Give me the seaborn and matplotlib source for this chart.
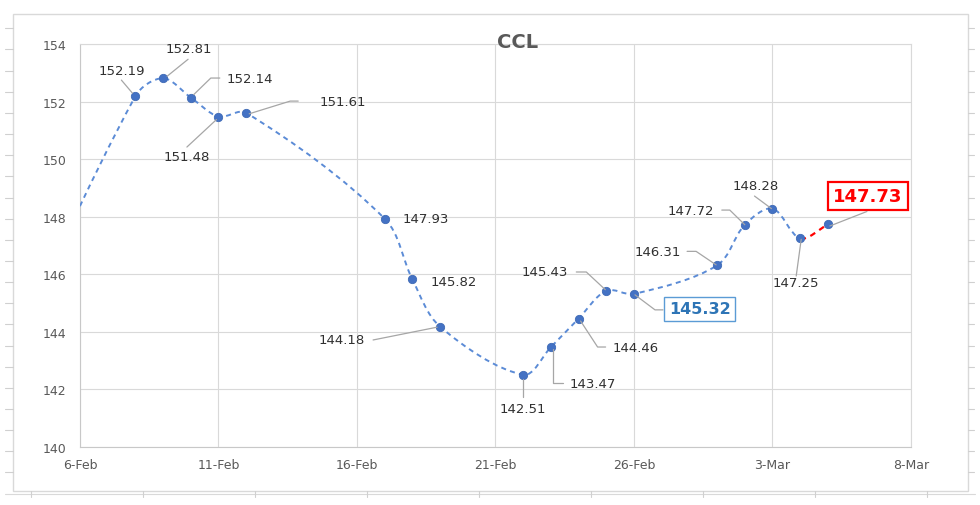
import numpy as np
import pandas as pd
import matplotlib
matplotlib.use("Agg")
import matplotlib.pyplot as plt
import matplotlib.dates as mdates
from matplotlib.path import Path
from matplotlib.patches import PathPatch, Rectangle
from matplotlib.lines import Line2D
from matplotlib.transforms import IdentityTransform
import seaborn as sns

# ---------------- data ----------------
dates = ["2023-02-03", "2023-02-08", "2023-02-09", "2023-02-10", "2023-02-11",
         "2023-02-12", "2023-02-17", "2023-02-18", "2023-02-19", "2023-02-22",
         "2023-02-23", "2023-02-24", "2023-02-25", "2023-02-26", "2023-03-01",
         "2023-03-02", "2023-03-03", "2023-03-04", "2023-03-05"]
values = [142.2, 152.19, 152.81, 152.14, 151.48, 151.61, 147.93, 145.82, 144.18,
          142.51, 143.47, 144.46, 145.43, 145.32, 146.31, 147.72, 148.28, 147.25,
          147.73]
tick_dates = ["2023-02-06", "2023-02-11", "2023-02-16", "2023-02-21",
              "2023-02-26", "2023-03-03", "2023-03-08"]
tick_labels = ["6-Feb", "11-Feb", "16-Feb", "21-Feb", "26-Feb", "3-Mar", "8-Mar"]
y_ticks = [140, 142, 144, 146, 148, 150, 152, 154]
title = "CCL"

df = pd.DataFrame({"date": pd.to_datetime(dates), "value": values})

# ---------------- style ----------------
sns.set_theme(style="white")
plt.rcParams["font.family"] = ["DejaVu Sans"]

W, H, DPI = 980, 506, 100
fig = plt.figure(figsize=(W / DPI, H / DPI), dpi=DPI)
ax = fig.add_axes([80 / W, (H - 448) / H, (911 - 80) / W, (448 - 45) / H])

BLUE_LINE = "#5B8BD6"
BLUE_MK = "#4472C4"
GRID = "#D9D9D9"
TICK_C = "#595959"
LBL_C = "#303030"
LEAD_C = "#A6A6A6"

xlim = (mdates.datestr2num("2023-02-06"), mdates.datestr2num("2023-03-08"))
ax.set_xlim(*xlim)
ax.set_ylim(140, 154)

sns.scatterplot(data=df, x="date", y="value", ax=ax, s=36, color=BLUE_MK,
                edgecolor="#3F6AB5", linewidth=0.6, zorder=5, clip_on=True,
                legend=False)

ax.set_xlim(*xlim)
ax.set_ylim(140, 154)
ax.set_xticks(mdates.datestr2num(tick_dates))
ax.set_xticklabels(tick_labels)
ax.set_yticks(y_ticks)
ax.set_yticklabels([str(v) for v in y_ticks])
ax.set_xlabel("")
ax.set_ylabel("")
ax.grid(True, color=GRID, lw=0.8)
ax.set_axisbelow(True)
for s in ax.spines.values():
    s.set_color(GRID)
    s.set_linewidth(0.8)
ax.spines["left"].set_color("#C8C8C8")
ax.spines["bottom"].set_color("#C8C8C8")
ax.tick_params(axis="both", length=0, colors=TICK_C, labelsize=9)
ax.tick_params(axis="y", pad=10)
ax.tick_params(axis="x", pad=8)

fig.canvas.draw()

# smoothed dashed line (cubic Bezier through the data points, chord-scaled tangents)
xn = mdates.date2num(df["date"])
yv = df["value"].to_numpy(dtype=float)
D = ax.transData.transform(np.column_stack([xn, yv]))
n = len(D)
seg = np.linalg.norm(np.diff(D, axis=0), axis=1)
tang = np.zeros_like(D)
for i in range(n):
    if i == 0:
        tang[i] = (D[1] - D[0]) / seg[0]
    elif i == n - 1:
        tang[i] = (D[-1] - D[-2]) / seg[-1]
    else:
        tang[i] = (D[i + 1] - D[i - 1]) / (seg[i - 1] + seg[i])
inv = ax.transData.inverted()

def seg_path(i0, i1):
    verts = [D[i0]]
    codes = [Path.MOVETO]
    for i in range(i0, i1):
        c1 = D[i] + tang[i] * seg[i] / 3.0
        c2 = D[i + 1] - tang[i + 1] * seg[i] / 3.0
        verts += [c1, c2, D[i + 1]]
        codes += [Path.CURVE4] * 3
    return Path(inv.transform(np.array(verts)), codes)

ax.add_patch(PathPatch(seg_path(0, n - 2), fill=False, ec=BLUE_LINE, lw=1.4,
                       ls=(0, (2.6, 2.2)), zorder=3))
ax.add_patch(PathPatch(seg_path(n - 2, n - 1), fill=False, ec="#FF0000", lw=1.6,
                       ls=(0, (2.6, 2.2)), zorder=3))
ax.set_xlim(*xlim)
ax.set_ylim(140, 154)

fig.text(518 / W, 1 - 42.5 / H, title, ha="center", va="center",
         fontsize=14, fontweight="bold", color=TICK_C)

# ---------------- data labels (style: offsets in pixels, y downward) ----------------
label_style = {
    1: ("center", (-14, -26), [(-14, -16), (-3, -3)]),
    2: ("center", (26, -30), [(25, -19), (4, -2)]),
    3: ("left", (36, -19.5), [(3, -3), (20, -19.5), (29, -19.5)]),
    4: ("center", (-31.6, 39.5), [(-31.6, 30.5), (-2, 3)]),
    5: ("left", (73.7, -11.7), [(3, 1), (44, -11.7), (52, -11.7)]),
    6: ("left", (18, 0), []),
    7: ("left", (18, 1.6), []),
    8: ("right", (-75, 13.3), [(-67, 13.3), (-3, 0.5)]),
    9: ("center", (0, 34), [(0, 4), (0, 22)]),
    10: ("left", (19, 36), [(2, 2), (2, 36), (12, 36)]),
    11: ("left", (34, 28.4), [(2, 2.4), (19, 28.4), (27, 28.4)]),
    12: ("right", (-38, -18.7), [(-30, -18.7), (-20, -18.7), (-1, -1)]),
    13: ("center", (65.6, 15), [(1, 1), (21, 16), (29, 16)]),
    14: ("right", (-36, -14), [(-30, -14), (-21, -14), (-1, -0.5)]),
    15: ("right", (-31, -14.7), [(-23, -14.7), (-15, -14.7), (0, 0)]),
    16: ("center", (-17, -23.6), [(-18, -12.6), (-1, 0)]),
    17: ("center", (-4, 44), [(-4, 37.7), (1, 1)]),
    18: ("center", (40, -28.5), [(39, -13), (2, 1.5)]),
}
box_style = {
    13: dict(color="#2E75B6", size=11.5, ec="#5B9BD5", lw=1.0, pad=0.3),
    18: dict(color="#FF0000", size=13, ec="#FF0000", lw=1.6, pad=0.3),
}

for i, (ha, (dx, dy), lead) in label_style.items():
    xy = (xn[i], yv[i])
    txt = f"{values[i]:.2f}"
    if i in box_style:
        b = box_style[i]
        ax.annotate(txt, xy=xy, xytext=(dx, -dy), textcoords="offset pixels",
                    ha=ha, va="center", fontsize=b["size"], fontweight="bold",
                    color=b["color"], zorder=6, annotation_clip=False,
                    bbox=dict(boxstyle=f"square,pad={b['pad']}", fc="white",
                              ec=b["ec"], lw=b["lw"]))
    else:
        ax.annotate(txt, xy=xy, xytext=(dx, -dy), textcoords="offset pixels",
                    ha=ha, va="center", fontsize=9.5, color=LBL_C, zorder=6,
                    annotation_clip=False)
    if lead:
        px, py = ax.transData.transform(xy)
        lx = [px + o[0] for o in lead]
        ly = [py - o[1] for o in lead]
        fig.add_artist(Line2D(lx, ly, transform=IdentityTransform(),
                              color=LEAD_C, lw=0.9, zorder=2))

# ---------------- chart frame and sheet background ----------------
fig.add_artist(Rectangle((13 / W, (H - 492) / H), (968 - 13) / W, (492 - 15) / H,
                         transform=fig.transFigure, fill=False, ec="#D9D9D9",
                         lw=1.0, zorder=0))
for k in range(22):
    yy = 1 - (29.3 + 21.15 * k) / H
    fig.add_artist(Line2D([5 / W, 13 / W], [yy, yy], transform=fig.transFigure,
                          color="#D0D0D0", lw=0.8))
    fig.add_artist(Line2D([968 / W, 974 / W], [yy, yy], transform=fig.transFigure,
                          color="#D0D0D0", lw=0.8))
yb = 1 - 495 / H
fig.add_artist(Line2D([5 / W, 975 / W], [yb, yb], transform=fig.transFigure,
                      color="#D9D9D9", lw=0.8))
for k in range(9):
    xx = (31 + 112 * k) / W
    fig.add_artist(Line2D([xx, xx], [1 - 492 / H, 1 - 498 / H],
                          transform=fig.transFigure, color="#D0D0D0", lw=0.8))

fig.savefig("out.png", dpi=DPI)
